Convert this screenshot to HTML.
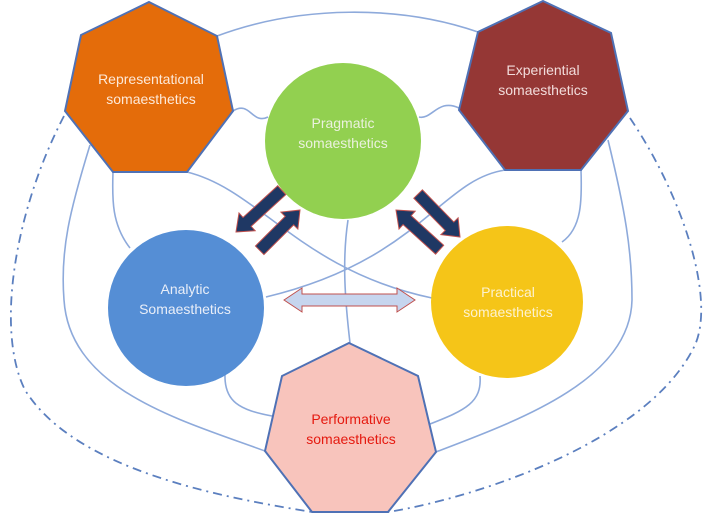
<!DOCTYPE html>
<html><head><meta charset="utf-8"><style>
html,body{margin:0;padding:0;background:#fff;}
svg{display:block;}
text{font-family:"Liberation Sans",sans-serif;font-size:14px;text-anchor:middle;}
</style></head><body>
<svg width="714" height="527" viewBox="0 0 714 527" xmlns="http://www.w3.org/2000/svg">
<g fill="none" stroke="#8eaadb" stroke-width="1.6">
<path d="M217,36 C300,5 400,5 478,32"/>
<path d="M233,111 C250,100 252,125 268,117"/>
<path d="M419,117 C432,120 438,98 459,108"/>
<path d="M113,172 C112,200 112,225 130,248"/>
<path d="M187,172 C260,190 300,270 432,298"/>
<path d="M505,170 C440,180 420,260 266,297"/>
<path d="M581,170 C582,200 582,228 562,242"/>
<path d="M90,145 C70,210 60,250 64,300 C70,390 180,420 265,451"/>
<path d="M608,140 C625,210 632,250 632,300 C630,380 520,420 436,452"/>
<path d="M348,220 C342,260 345,300 350,343"/>
<path d="M225,374 C224,402 240,410 272,416"/>
<path d="M480,376 C482,402 466,410 430,424"/>
</g>
<g fill="none" stroke="#5b7fbf" stroke-width="1.8" stroke-dasharray="9,5,2,5">
<path d="M64,116 C15,210 -5,330 25,390 C75,470 220,497 312,512"/>
<path d="M630,118 C685,200 715,300 695,345 C650,440 480,497 388,512"/>
</g>
<g stroke="#4f71b5" stroke-width="2">
<polygon fill="#e46c0a" points="149,2 217,36 233,111 187,172 113,172 65,111 81,35"/>
<polygon fill="#953735" points="543,1 611,33 628,111 581,170 505,170 459,110 478,32"/>
<polygon fill="#f8c4bc" points="349,343 418,376 436,452 388,512 312,512 265,451 282,376"/>
</g>
<circle cx="343" cy="141" r="78" fill="#92d050"/>
<circle cx="186" cy="308" r="78" fill="#558ed5"/>
<circle cx="507" cy="302" r="76" fill="#f5c518"/>
<g fill="#1f3864" stroke="#c0504d" stroke-width="1">
<g transform="translate(236,232) rotate(137.6)"><polygon points="0,0 -15,-12 -15,-6 -62,-6 -62,6 -15,6 -15,12"/></g>
<g transform="translate(300,210) rotate(-45)"><polygon points="0,0 -15,-12 -15,-6 -57,-6 -57,6 -15,6 -15,12"/></g>
<g transform="translate(396,210) rotate(-137.7)"><polygon points="0,0 -15,-12 -15,-6 -59,-6 -59,6 -15,6 -15,12"/></g>
<g transform="translate(460,237) rotate(45.7)"><polygon points="0,0 -15,-12 -15,-6 -60,-6 -60,6 -15,6 -15,12"/></g>
</g>
<polygon fill="#c6d5ee" stroke="#c0504d" stroke-width="1" points="284,300 302,288 302,294 397,294 397,288 415,300 397,312 397,306 302,306 302,312"/>
<text x="151" y="84" fill="#fde9d9">Representational</text>
<text x="151" y="104" fill="#fde9d9">somaesthetics</text>
<text x="543" y="75" fill="#f2dcdb">Experiential</text>
<text x="543" y="95" fill="#f2dcdb">somaesthetics</text>
<text x="343" y="128" fill="#ebf1de">Pragmatic</text>
<text x="343" y="148" fill="#ebf1de">somaesthetics</text>
<text x="185" y="294" fill="#e9eef8">Analytic</text>
<text x="185" y="314" fill="#e9eef8">Somaesthetics</text>
<text x="508" y="297" fill="#fdf2cf">Practical</text>
<text x="508" y="317" fill="#fdf2cf">somaesthetics</text>
<text x="351" y="424" fill="#e5190f">Performative</text>
<text x="351" y="444" fill="#e5190f">somaesthetics</text>
</svg>
</body></html>
